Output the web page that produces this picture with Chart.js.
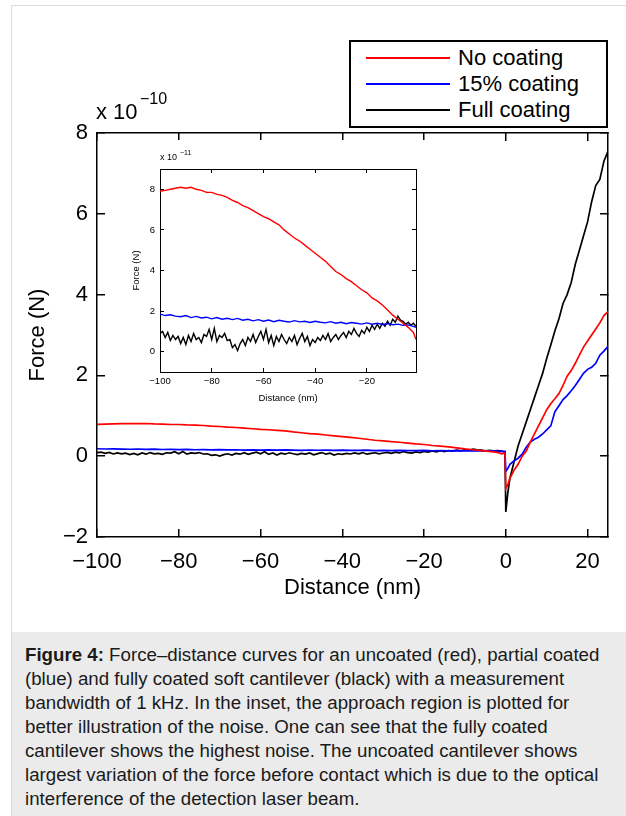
<!DOCTYPE html>
<html>
<head>
<meta charset="utf-8">
<script src="https://cdn.jsdelivr.net/npm/chart.js@4/dist/chart.umd.min.js"></script>
<style>
  html, body { margin: 0; padding: 0; background: #fff; }
  #page { position: relative; width: 626px; height: 816px; overflow: hidden; font-family: "Liberation Sans", Arial, sans-serif; color: #000; }
  #frame { position: absolute; left: 11px; top: 5px; width: 640px; height: 830px; border-top: 1px solid #dcdcdc; border-left: 1px solid #dcdcdc; }
  #mainCanvas { position: absolute; left: 0; top: 0; }
  #insetCanvas { position: absolute; left: 110px; top: 140px; background: #fff; }
  .abs { position: absolute; white-space: nowrap; line-height: 1; }
  #legend { position: absolute; left: 349px; top: 40px; width: 255px; height: 84px; border: 2px solid #000; background: #fff; }
  .sw { position: absolute; height: 2px; width: 84px; left: 366px; }
  .lt { position: absolute; left: 458px; font-size: 22px; line-height: 1; white-space: nowrap; }
  #caption { position: absolute; left: 12px; top: 632px; width: 614px; height: 184px; background: #ebebeb; }
  #capText { position: absolute; left: 13px; top: 11px; font-size: 18.7px; line-height: 24px; color: #1a1a1a; white-space: nowrap; }
</style>
</head>
<body>
<div id="page">
  <div id="frame"></div>
  <canvas id="mainCanvas" width="626" height="632"></canvas>
  <div class="abs" style="left:96px; top:101px; font-size:22px;">x 10</div>
  <div class="abs" style="left:140px; top:91px; font-size:16px;">&minus;10</div>
  <div id="legend"></div>
  <div class="sw" style="top:57px; background:#ff0000;"></div>
  <div class="sw" style="top:83px; background:#0000ff;"></div>
  <div class="sw" style="top:109px; background:#000000;"></div>
  <div class="lt" style="top:47px;">No coating</div>
  <div class="lt" style="top:73px;">15% coating</div>
  <div class="lt" style="top:99px;">Full coating</div>
  <canvas id="insetCanvas" width="320" height="270"></canvas>
  <div class="abs" style="left:160px; top:153px; font-size:9px;">x 10</div>
  <div class="abs" style="left:180px; top:149px; font-size:7px;">&minus;11</div>
  <div id="caption"><div id="capText"><b>Figure 4:</b> Force–distance curves for an uncoated (red), partial coated<br>(blue) and fully coated soft cantilever (black) with a measurement<br>bandwidth of 1 kHz. In the inset, the approach region is plotted for<br>better illustration of the noise. One can see that the fully coated<br>cantilever shows the highest noise. The uncoated cantilever shows<br>largest variation of the force before contact which is due to the optical<br>interference of the detection laser beam.</div></div>
</div>
<script>
// ---------------- DATA ----------------
// Series names
const seriesNames = ["No coating", "15% coating", "Full coating"];

// Approach region (distance in nm), force in units of 1e-11 N (as in the inset)
const approachX = [-100,-99,-98,-97,-96,-95,-94,-93,-92,-91,-90,-89,-88,-87,-86,-85,-84,-83,-82,-81,
  -80,-79,-78,-77,-76,-75,-74,-73,-72,-71,-70,-69,-68,-67,-66,-65,-64,-63,-62,-61,
  -60,-59,-58,-57,-56,-55,-54,-53,-52,-51,-50,-49,-48,-47,-46,-45,-44,-43,-42,-41,
  -40,-39,-38,-37,-36,-35,-34,-33,-32,-31,-30,-29,-28,-27,-26,-25,-24,-23,-22,-21,
  -20,-19,-18,-17,-16,-15,-14,-13,-12,-11,-10,-9,-8,-7,-6,-5,-4,-3,-2,-1];
const approachFull = [0.9,1.0,0.7,0.95,0.55,0.8,0.6,0.75,0.4,0.7,
  0.35,0.8,0.5,0.9,0.6,0.7,0.45,0.85,0.75,1.1,
  0.6,1.15,0.5,0.8,0.7,0.9,0.55,0.6,0.2,0.35,
  0.05,0.4,0.6,0.3,0.7,0.5,0.85,0.45,0.75,1.0,
  0.6,1.1,0.45,0.8,0.3,0.75,0.5,0.85,0.6,0.4,
  0.7,0.5,0.8,0.35,0.65,0.9,0.5,0.75,0.3,0.6,
  0.45,0.7,0.55,0.8,0.6,0.9,0.5,0.7,0.85,0.6,
  0.8,0.95,0.7,1.0,0.85,1.15,0.9,0.75,1.05,0.9,
  1.2,1.0,1.3,1.1,1.35,1.15,1.4,1.25,1.5,1.3,
  1.6,1.45,1.75,1.55,1.5,1.35,1.45,1.3,1.4,1.25];

const approachX2 = [-100,-98,-96,-94,-92,-90,-88,-86,-84,-82,-80,-78,-76,-74,-72,-70,-68,-66,-64,-62,
  -60,-58,-56,-54,-52,-50,-48,-46,-44,-42,-40,-38,-36,-34,-32,-30,-28,-26,-24,-22,
  -20,-18,-16,-14,-12,-10,-8,-6,-4,-2,-1];
const approachNone = [7.9,7.95,8.0,8.05,8.1,8.05,8.1,8.0,7.95,7.85,
  7.85,7.75,7.7,7.6,7.45,7.35,7.2,7.1,6.95,6.8,
  6.65,6.55,6.4,6.25,6.0,5.8,5.6,5.45,5.25,5.05,
  4.85,4.65,4.45,4.2,3.95,3.8,3.6,3.45,3.25,3.05,
  2.9,2.65,2.5,2.3,2.05,1.8,1.6,1.4,1.2,0.95,0.6];
const approachPartial = [1.85,1.78,1.82,1.75,1.72,1.78,1.68,1.74,1.66,1.7,
  1.62,1.68,1.6,1.65,1.58,1.64,1.55,1.6,1.52,1.58,
  1.5,1.56,1.48,1.55,1.5,1.46,1.53,1.47,1.5,1.44,
  1.5,1.45,1.42,1.48,1.4,1.45,1.38,1.44,1.4,1.36,
  1.42,1.35,1.4,1.34,1.38,1.33,1.36,1.3,1.32,1.25,1.2];

// Contact region (distance in nm), force in units of 1e-10 N
const contactX = [-0.2,0,0.5,1,2,3,4,5,6,7,8,9,10,11,12,13,14,15,16,17,18,19,20,21,22,23,24,25];
const contactNone = [0.08,-0.8,-0.7,-0.55,-0.35,-0.2,0.0,0.13,0.35,0.55,0.75,0.95,1.15,1.3,1.42,1.55,1.75,1.98,2.12,2.3,2.5,2.7,2.85,3.0,3.15,3.3,3.48,3.58];
const contactPartial = [0.12,-0.38,-0.3,-0.2,-0.12,-0.05,0.05,0.22,0.35,0.42,0.47,0.55,0.65,0.75,1.1,1.25,1.4,1.5,1.62,1.75,1.9,2.05,2.15,2.2,2.3,2.5,2.6,2.72];
const contactFull = [0.1,-1.38,-0.9,-0.55,-0.15,0.25,0.55,0.85,1.15,1.45,1.75,2.05,2.42,2.75,3.1,3.4,3.78,4.0,4.3,4.75,5.1,5.45,5.8,6.3,6.7,6.85,7.3,7.55];

// Tick labels
const mainXTicks = [-100,-80,-60,-40,-20,0,20];
const mainYTicks = [-2,0,2,4,6,8];
const insetXTicks = [-100,-80,-60,-40,-20];
const insetYTicks = [0,2,4,6,8];

// ---------------- HELPERS ----------------
const colors = ["#ff0000", "#0000ff", "#000000"];
const pts = (xs, ys, k) => xs.map((x, i) => ({x: x, y: ys[i] * k}));
const fmt = v => String(v).replace('-', '\u2212');
const setTicks = arr => (scale) => { scale.ticks = arr.map(v => ({value: v})); };

Chart.defaults.font.family = '"Liberation Sans", Arial, sans-serif';
Chart.defaults.color = '#000';

function axis(opts) {
  const o = {
    type: 'linear',
    position: opts.position,
    min: opts.min, max: opts.max,
    afterBuildTicks: setTicks(opts.ticks),
    afterFit: opts.afterFit,
    border: {display: true, color: '#000', width: opts.bw},
    grid: {display: true, drawOnChartArea: false, drawTicks: true, tickLength: -opts.tl, color: '#000', lineWidth: opts.bw},
    ticks: {display: !!opts.showLabels, autoSkip: false, maxRotation: 0, padding: opts.pad || 0,
      font: {size: opts.fs}, color: '#000', callback: fmt}
  };
  if (opts.title) o.title = {display: true, text: opts.title, font: {size: opts.fs}, color: '#000', padding: opts.titlePad};
  return o;
}

// ---------------- MAIN CHART ----------------
new Chart(document.getElementById('mainCanvas'), {
  type: 'line',
  data: {
    datasets: [
      {label: seriesNames[0], data: pts(approachX2, approachNone, 0.1).concat(pts(contactX, contactNone, 1)), borderColor: colors[0]},
      {label: seriesNames[1], data: pts(approachX2, approachPartial, 0.1).concat(pts(contactX, contactPartial, 1)), borderColor: colors[1]},
      {label: seriesNames[2], data: pts(approachX, approachFull, 0.1).concat(pts(contactX, contactFull, 1)), borderColor: colors[2]}
    ]
  },
  options: {
    responsive: false, animation: false, devicePixelRatio: 1,
    layout: {padding: {left: 0, right: 18, top: 133, bottom: 0}},
    elements: {point: {radius: 0}, line: {borderWidth: 1.7, tension: 0}},
    plugins: {legend: {display: false}, tooltip: {enabled: false}},
    scales: {
      x: axis({position: 'bottom', min: -100, max: 25, ticks: mainXTicks, showLabels: true, fs: 22, tl: 8, pad: 20, bw: 1.5,
        title: 'Distance (nm)', titlePad: {top: 0, bottom: 31}, afterFit: s => { s.height = 95; }}),
      x2: axis({position: 'top', min: -100, max: 25, ticks: mainXTicks, fs: 22, tl: 8, bw: 1.5, afterFit: s => { s.height = 0; }}),
      y: axis({position: 'left', min: -2, max: 8, ticks: mainYTicks, showLabels: true, fs: 22, tl: 8, pad: 17, bw: 1.5,
        title: 'Force (N)', titlePad: {top: 25, bottom: 0}, afterFit: s => { s.width = 97; }}),
      y2: axis({position: 'right', min: -2, max: 8, ticks: mainYTicks, fs: 22, tl: 8, bw: 1.5, afterFit: s => { s.width = 0; }})
    }
  }
});

// ---------------- INSET CHART ----------------
new Chart(document.getElementById('insetCanvas'), {
  type: 'line',
  data: {
    datasets: [
      {label: seriesNames[0], data: pts(approachX2, approachNone, 1), borderColor: colors[0]},
      {label: seriesNames[1], data: pts(approachX2, approachPartial, 1), borderColor: colors[1]},
      {label: seriesNames[2], data: pts(approachX, approachFull, 1), borderColor: colors[2]}
    ]
  },
  options: {
    responsive: false, animation: false, devicePixelRatio: 1,
    layout: {padding: {left: 0, right: 14, top: 29, bottom: 0}},
    elements: {point: {radius: 0}, line: {borderWidth: 1.4, tension: 0}},
    plugins: {legend: {display: false}, tooltip: {enabled: false}},
    scales: {
      x: axis({position: 'bottom', min: -100, max: -1, ticks: insetXTicks, showLabels: true, fs: 9.5, tl: 4, pad: 8, bw: 1,
        title: 'Distance (nm)', titlePad: {top: 0, bottom: 6}, afterFit: s => { s.height = 38; }}),
      x2: axis({position: 'top', min: -100, max: -1, ticks: insetXTicks, fs: 9.5, tl: 4, bw: 1, afterFit: s => { s.height = 0; }}),
      y: axis({position: 'left', min: -1, max: 9, ticks: insetYTicks, showLabels: true, fs: 9.5, tl: 4, pad: 9, bw: 1,
        title: 'Force (N)', titlePad: {top: 21, bottom: 0}, afterFit: s => { s.width = 50; }}),
      y2: axis({position: 'right', min: -1, max: 9, ticks: insetYTicks, fs: 9.5, tl: 4, bw: 1, afterFit: s => { s.width = 0; }})
    }
  }
});
</script>
</body>
</html>
